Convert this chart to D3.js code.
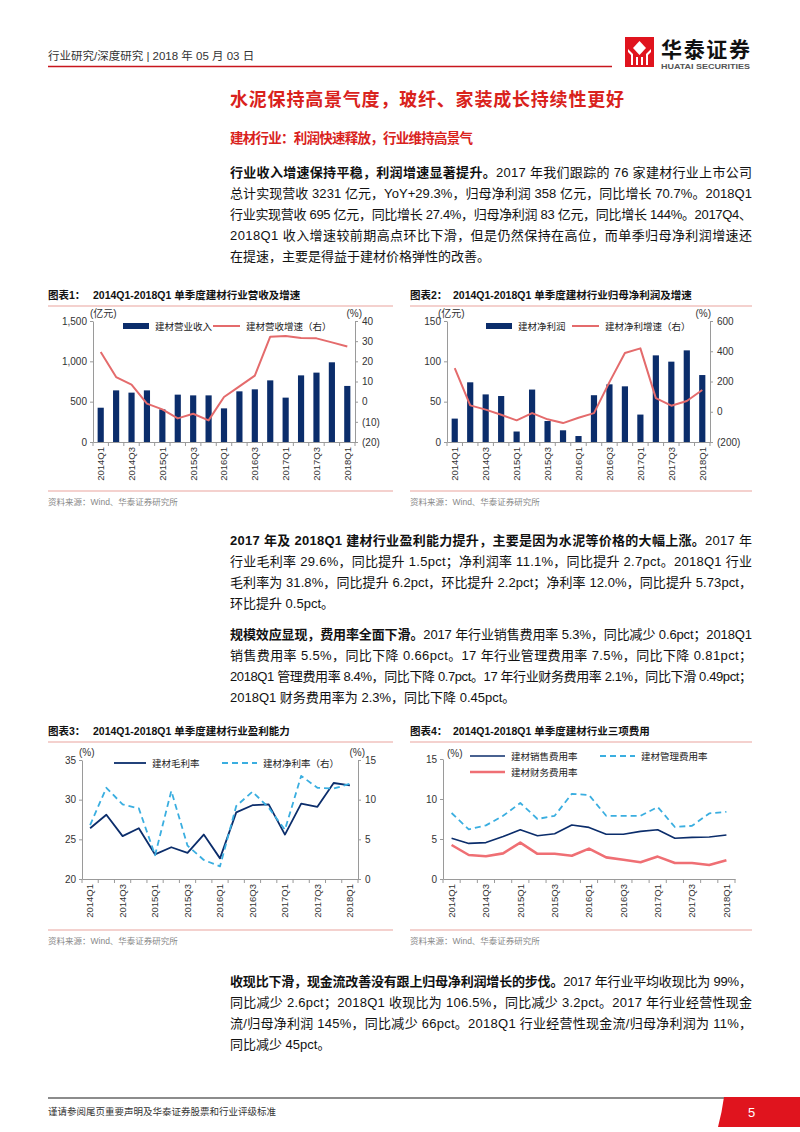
<!DOCTYPE html>
<html>
<head>
<meta charset="utf-8">
<script src="https://cdn.jsdelivr.net/npm/d3@7"></script>
<style>
  body { margin: 0; background: #fff; }
  svg text { font-family: "Liberation Sans", Arial, "Noto Sans CJK SC", sans-serif; }
</style>
</head>
<body>
<script>
// quarterly data, 2014Q1 - 2018Q1
const quarters = ['2014Q1', '2014Q2', '2014Q3', '2014Q4', '2015Q1', '2015Q2', '2015Q3', '2015Q4',
  '2016Q1', '2016Q2', '2016Q3', '2016Q4', '2017Q1', '2017Q2', '2017Q3', '2017Q4', '2018Q1'];
const revenue = [425, 640, 612, 640, 405, 587, 578, 578, 417, 628, 653, 764, 550, 826, 860, 988, 695];
const revenueGrowth = [24.6, 12.2, 8.4, -1.0, -3.8, -8.3, -6.0, -9.3, 2.3, 7.6, 12.9, 32.2, 32.6, 31.6, 31.4, 29.4, 27.4];
const netProfit = [29, 74, 59, 57, 13, 65, 26, 14.5, 7.4, 58, 71.5, 69, 34, 107.4, 99.6, 113.6, 83];
const profitGrowth = [289, 42, 14, -20, -57, -9, -50, -75, -40, -9, 196, 388, 419, 90, 40, 71, 144];
const grossMargin = [26.4, 28.1, 25.4, 26.4, 23.1, 24.0, 23.3, 25.6, 22.6, 28.4, 29.3, 29.4, 25.6, 29.5, 29.1, 32.1, 31.8];
const netMargin = [6.8, 11.5, 9.4, 8.9, 3.0, 11.1, 4.2, 2.4, 1.6, 9.2, 11.0, 9.0, 6.2, 13.0, 11.5, 11.4, 12.0];
const sellingRate = [5.1, 4.45, 4.55, 5.3, 6.15, 5.4, 5.65, 6.75, 6.45, 5.6, 5.6, 5.95, 6.15, 5.1, 5.2, 5.25, 5.5];
const adminRate = [8.25, 6.2, 6.7, 7.9, 9.5, 7.5, 7.9, 10.65, 10.5, 7.9, 7.9, 7.9, 9.0, 6.5, 6.65, 8.2, 8.4];
const financeRate = [4.25, 3.0, 2.85, 3.2, 4.55, 3.15, 3.15, 2.9, 3.8, 2.7, 2.4, 2.1, 2.8, 2.0, 2.0, 1.75, 2.35];

const ticksRevenue = [0, 500, 1000, 1500];
const ticksRevenueGrowth = [-20, -10, 0, 10, 20, 30, 40];
const ticksProfit = [0, 50, 100, 150];
const ticksProfitGrowth = [-200, 0, 200, 400, 600];
const ticksGross = [20, 25, 30, 35];
const ticksRate = [0, 5, 10, 15];

const NAVY = '#0b2d6b';
const SALMON = '#e46b6c';
const SKY = '#3aaee0';
const RULE = '#e9a39d';
const SOURCE = '资料来源：Wind、华泰证券研究所';

const svg = d3.select('body').append('svg')
  .attr('width', 800)
  .attr('height', 1132);

// ---------- page header ----------
svg.append('text')
  .attr('x', 48).attr('y', 60)
  .attr('font-size', 11.5).attr('fill', '#333')
  .text('行业研究/深度研究 | 2018 年 05 月 03 日');

svg.append('line')
  .attr('x1', 48).attr('x2', 612).attr('y1', 66.5).attr('y2', 66.5)
  .attr('stroke', '#c8161d').attr('stroke-width', 1.3);

const logo = svg.append('g').attr('transform', 'translate(625,37)');
logo.append('rect').attr('width', 29).attr('height', 30).attr('fill', '#e0141e');
logo.append('path').attr('d', 'M14.5 4 L21 11 L14.5 18 L8 11 Z').attr('fill', '#fff');
logo.append('path').attr('d', 'M3 12 L8 17 L8 28 L6 28 L6 18 L3 15 Z').attr('fill', '#fff');
logo.append('path').attr('d', 'M26 12 L21 17 L21 28 L23 28 L23 18 L26 15 Z').attr('fill', '#fff');
logo.append('rect').attr('x', 11).attr('y', 20).attr('width', 2).attr('height', 8).attr('fill', '#fff');
logo.append('rect').attr('x', 16).attr('y', 20).attr('width', 2).attr('height', 8).attr('fill', '#fff');

svg.append('text')
  .attr('x', 661).attr('y', 57)
  .attr('font-size', 21).attr('font-weight', 'bold').attr('fill', '#111')
  .attr('textLength', 89).attr('lengthAdjust', 'spacing')
  .text('华泰证券');
svg.append('text')
  .attr('x', 661).attr('y', 68.5)
  .attr('font-size', 7.2).attr('font-weight', 'bold').attr('fill', '#555')
  .attr('textLength', 89).attr('lengthAdjust', 'spacingAndGlyphs')
  .text('HUATAI SECURITIES');

// ---------- headings ----------
svg.append('text')
  .attr('x', 230).attr('y', 106)
  .attr('font-size', 18).attr('font-weight', 'bold').attr('fill', '#d9221c')
  .attr('textLength', 394).attr('lengthAdjust', 'spacing')
  .text('水泥保持高景气度，玻纤、家装成长持续性更好');

svg.append('text')
  .attr('x', 230).attr('y', 143)
  .attr('font-size', 13.5).attr('font-weight', 'bold').attr('fill', '#d9221c')
  .attr('textLength', 243).attr('lengthAdjust', 'spacing')
  .text('建材行业：利润快速释放，行业维持高景气');

// ---------- paragraphs ----------
function paragraph(x, y0, lines) {
  lines.forEach((segs, i) => {
    const t = svg.append('text')
      .attr('x', x).attr('y', y0 + i * 21)
      .attr('font-size', 13).attr('fill', '#111');
    if (i < lines.length - 1) t.attr('textLength', 522).attr('lengthAdjust', 'spacing');
    segs.forEach(([txt, bold]) => {
      t.append('tspan').attr('font-weight', bold ? 'bold' : null).text(txt);
    });
  });
}

paragraph(230, 177, [
  [['行业收入增速保持平稳，利润增速显著提升。', true], ['2017 年我们跟踪的 76 家建材行业上市公司']],
  [['总计实现营收 3231 亿元，YoY+29.3%，归母净利润 358 亿元，同比增长 70.7%。2018Q1']],
  [['行业实现营收 695 亿元，同比增长 27.4%，归母净利润 83 亿元，同比增长 144%。2017Q4、']],
  [['2018Q1 收入增速较前期高点环比下滑，但是仍然保持在高位，而单季归母净利润增速还']],
  [['在提速，主要是得益于建材价格弹性的改善。']]
]);

paragraph(230, 545, [
  [['2017 年及 2018Q1 建材行业盈利能力提升，主要是因为水泥等价格的大幅上涨。', true], ['2017 年']],
  [['行业毛利率 29.6%，同比提升 1.5pct；净利润率 11.1%，同比提升 2.7pct。2018Q1 行业']],
  [['毛利率为 31.8%，同比提升 6.2pct，环比提升 2.2pct；净利率 12.0%，同比提升 5.73pct，']],
  [['环比提升 0.5pct。']]
]);

paragraph(230, 639, [
  [['规模效应显现，费用率全面下滑。', true], ['2017 年行业销售费用率 5.3%，同比减少 0.6pct；2018Q1']],
  [['销售费用率 5.5%，同比下降 0.66pct。17 年行业管理费用率 7.5%，同比下降 0.81pct；']],
  [['2018Q1 管理费用率 8.4%，同比下降 0.7pct。17 年行业财务费用率 2.1%，同比下滑 0.49pct；']],
  [['2018Q1 财务费用率为 2.3%，同比下降 0.45pct。']]
]);

paragraph(230, 986, [
  [['收现比下滑，现金流改善没有跟上归母净利润增长的步伐。', true], ['2017 年行业平均收现比为 99%，']],
  [['同比减少 2.6pct；2018Q1 收现比为 106.5%，同比减少 3.2pct。2017 年行业经营性现金']],
  [['流/归母净利润 145%，同比减少 66pct。2018Q1 行业经营性现金流/归母净利润为 11%，']],
  [['同比减少 45pct。']]
]);

// ---------- charts ----------
const parenFmt = v => (v < 0 ? `(${-v})` : `${v}`);

function styleAxis(sel) {
  sel.attr('font-family', null).attr('font-size', null);
  sel.selectAll('.domain, .tick line').attr('stroke', '#9a9a9a');
  sel.selectAll('.tick text').attr('font-size', 10).attr('fill', '#333');
}

function drawChart(cfg) {
  const g = svg.append('g');

  // title + rules
  g.append('text').attr('x', cfg.frame[0]).attr('y', cfg.titleY)
    .attr('font-size', 10.5).attr('font-weight', 'bold').attr('fill', '#111')
    .text(cfg.label);
  g.append('text').attr('x', cfg.titleX).attr('y', cfg.titleY)
    .attr('font-size', 10.5).attr('font-weight', 'bold').attr('fill', '#111')
    .text(cfg.title);
  g.append('line').attr('x1', cfg.frame[0]).attr('x2', cfg.frame[1])
    .attr('y1', cfg.titleY + 7).attr('y2', cfg.titleY + 7)
    .attr('stroke', RULE).attr('stroke-width', 1.2);
  g.append('line').attr('x1', cfg.frame[0]).attr('x2', cfg.frame[1])
    .attr('y1', cfg.sourceY).attr('y2', cfg.sourceY)
    .attr('stroke', RULE).attr('stroke-width', 1.2);
  g.append('text').attr('x', cfg.frame[0]).attr('y', cfg.sourceY + 14)
    .attr('font-size', 8.5).attr('fill', '#888').text(SOURCE);

  const x = d3.scaleBand().domain(quarters).range([cfg.left, cfg.right]);
  const bw = x.bandwidth();
  const yL = d3.scaleLinear().domain(cfg.leftDomain).range([cfg.bottom, cfg.top]);
  const yR = cfg.rightDomain
    ? d3.scaleLinear().domain(cfg.rightDomain).range([cfg.bottom, cfg.top]) : null;

  // bars
  if (cfg.bars) {
    g.append('g').selectAll('rect')
      .data(cfg.bars)
      .join('rect')
      .attr('x', (d, i) => x(quarters[i]) + bw * 0.3)
      .attr('width', bw * 0.4)
      .attr('y', d => yL(d))
      .attr('height', d => yL(cfg.leftDomain[0]) - yL(d))
      .attr('fill', NAVY);
  }

  // lines
  cfg.lines.forEach(ln => {
    const sc = ln.right ? yR : yL;
    const path = d3.line()
      .x((d, i) => x(quarters[i]) + bw / 2)
      .y(d => sc(d));
    g.append('path')
      .datum(ln.values)
      .attr('fill', 'none')
      .attr('stroke', ln.color)
      .attr('stroke-width', ln.width)
      .attr('stroke-dasharray', ln.dash || null)
      .attr('stroke-linejoin', 'round')
      .attr('d', path);
  });

  // left axis
  g.append('g')
    .attr('transform', `translate(${cfg.left},0)`)
    .call(d3.axisLeft(yL).tickValues(cfg.leftTicks).tickSize(3).tickSizeOuter(0)
      .tickPadding(3).tickFormat(cfg.leftFormat || (d => d)))
    .call(styleAxis);

  // right axis
  if (yR) {
    g.append('g')
      .attr('transform', `translate(${cfg.right},0)`)
      .call(d3.axisRight(yR).tickValues(cfg.rightTicks).tickSize(3).tickSizeOuter(0)
        .tickPadding(4).tickFormat(parenFmt))
      .call(styleAxis);
  }

  // bottom axis
  const xg = g.append('g')
    .attr('transform', `translate(0,${cfg.bottom})`)
    .call(d3.axisBottom(x).tickValues(quarters.filter((d, i) => i % 2 === 0))
      .tickSize(0).tickSizeOuter(0))
    .call(styleAxis);
  xg.selectAll('.tick text')
    .attr('text-anchor', 'end')
    .attr('transform', 'rotate(-90)')
    .attr('x', -5).attr('y', 0).attr('dy', '0.35em')
    .attr('font-size', 9.5);
  g.append('g').selectAll('line')
    .data(quarters.map(q => x(q)).concat([x.range()[1]]))
    .join('line')
    .attr('x1', d => d).attr('x2', d => d)
    .attr('y1', cfg.bottom).attr('y2', cfg.bottom + 4)
    .attr('stroke', '#9a9a9a');

  // units
  g.append('text').attr('x', cfg.left + cfg.unitL[0]).attr('y', cfg.top + cfg.unitL[1])
    .attr('font-size', 10).attr('fill', '#333').text(cfg.unitLeft);
  if (cfg.unitRight) {
    g.append('text').attr('x', cfg.right + cfg.unitR[0]).attr('y', cfg.top + cfg.unitR[1])
      .attr('text-anchor', 'end')
      .attr('font-size', 10).attr('fill', '#333').text(cfg.unitRight);
  }

  // legend
  cfg.legend.forEach(it => {
    if (it.type === 'bar') {
      g.append('rect').attr('x', it.x).attr('y', it.y - 3).attr('width', 26).attr('height', 6)
        .attr('fill', it.color);
    } else {
      g.append('line').attr('x1', it.x).attr('x2', it.x + it.len).attr('y1', it.y).attr('y2', it.y)
        .attr('stroke', it.color).attr('stroke-width', it.width)
        .attr('stroke-dasharray', it.dash || null);
    }
    g.append('text').attr('x', it.x + it.len + 6).attr('y', it.y + 3.5)
      .attr('font-size', 9.5).attr('fill', '#222').text(it.text);
  });
}

drawChart({
  frame: [48, 393], titleY: 299, titleX: 93, sourceY: 491,
  label: '图表1：', title: '2014Q1-2018Q1 单季度建材行业营收及增速',
  left: 93, right: 355, top: 321, bottom: 442,
  leftDomain: [0, 1500], leftTicks: ticksRevenue, leftFormat: d3.format(','),
  rightDomain: [-20, 40], rightTicks: ticksRevenueGrowth,
  bars: revenue,
  lines: [{ values: revenueGrowth, right: true, color: SALMON, width: 2 }],
  unitLeft: '(亿元)', unitL: [-3, -4], unitRight: '(%)', unitR: [7, -4],
  legend: [
    { type: 'bar', x: 123, y: 326, len: 26, color: NAVY, text: '建材营业收入' },
    { type: 'line', x: 213, y: 326, len: 27, color: SALMON, width: 2, text: '建材营收增速（右）' }
  ]
});

drawChart({
  frame: [410, 752], titleY: 299, titleX: 453, sourceY: 491,
  label: '图表2：', title: '2014Q1-2018Q1 单季度建材行业归母净利润及增速',
  left: 447, right: 710, top: 321, bottom: 442,
  leftDomain: [0, 150], leftTicks: ticksProfit,
  rightDomain: [-200, 600], rightTicks: ticksProfitGrowth,
  bars: netProfit,
  lines: [{ values: profitGrowth, right: true, color: SALMON, width: 2 }],
  unitLeft: '(亿元)', unitL: [-9, -4], unitRight: '(%)', unitR: [1, -4],
  legend: [
    { type: 'bar', x: 486, y: 326, len: 26, color: NAVY, text: '建材净利润' },
    { type: 'line', x: 572, y: 326, len: 27, color: SALMON, width: 2, text: '建材净利增速（右）' }
  ]
});

drawChart({
  frame: [48, 393], titleY: 735, titleX: 93, sourceY: 930,
  label: '图表3：', title: '2014Q1-2018Q1 单季度建材行业盈利能力',
  left: 82, right: 358, top: 760, bottom: 879,
  leftDomain: [20, 35], leftTicks: ticksGross,
  rightDomain: [0, 15], rightTicks: ticksRate,
  lines: [
    { values: grossMargin, color: NAVY, width: 1.8 },
    { values: netMargin, right: true, color: SKY, width: 1.8, dash: '6,4' }
  ],
  unitLeft: '(%)', unitL: [-3, -4], unitRight: '(%)', unitR: [7, -4],
  legend: [
    { type: 'line', x: 114, y: 763, len: 32, color: NAVY, width: 1.8, text: '建材毛利率' },
    { type: 'line', x: 222, y: 763, len: 35, color: SKY, width: 1.8, dash: '6,4', text: '建材净利率（右）' }
  ]
});

drawChart({
  frame: [410, 752], titleY: 735, titleX: 453, sourceY: 930,
  label: '图表4：', title: '2014Q1-2018Q1 单季度建材行业三项费用',
  left: 443, right: 735, top: 759, bottom: 879,
  leftDomain: [0, 15], leftTicks: ticksRate,
  lines: [
    { values: sellingRate, color: NAVY, width: 1.6 },
    { values: adminRate, color: SKY, width: 1.8, dash: '6,4' },
    { values: financeRate, color: '#ef6f74', width: 2.6 }
  ],
  unitLeft: '(%)', unitL: [4, -2],
  legend: [
    { type: 'line', x: 470, y: 756, len: 35, color: NAVY, width: 1.6, text: '建材销售费用率' },
    { type: 'line', x: 600, y: 756, len: 35, color: SKY, width: 1.8, dash: '6,4', text: '建材管理费用率' },
    { type: 'line', x: 470, y: 772, len: 35, color: '#ef6f74', width: 2.6, text: '建材财务费用率' }
  ]
});

// ---------- footer ----------
svg.append('line')
  .attr('x1', 48).attr('x2', 726).attr('y1', 1098).attr('y2', 1098)
  .attr('stroke', '#8c8c8c').attr('stroke-width', 2);
svg.append('path')
  .attr('d', 'M724 1097 L800 1097 L800 1127 L718 1127 Q722 1112 724 1097 Z')
  .attr('fill', '#e0141e');
svg.append('text')
  .attr('x', 748).attr('y', 1117)
  .attr('font-size', 13).attr('fill', '#fff').text('5');
svg.append('text')
  .attr('x', 48).attr('y', 1115)
  .attr('font-size', 9.5).attr('fill', '#333')
  .text('谨请参阅尾页重要声明及华泰证券股票和行业评级标准');
</script>
</body>
</html>
